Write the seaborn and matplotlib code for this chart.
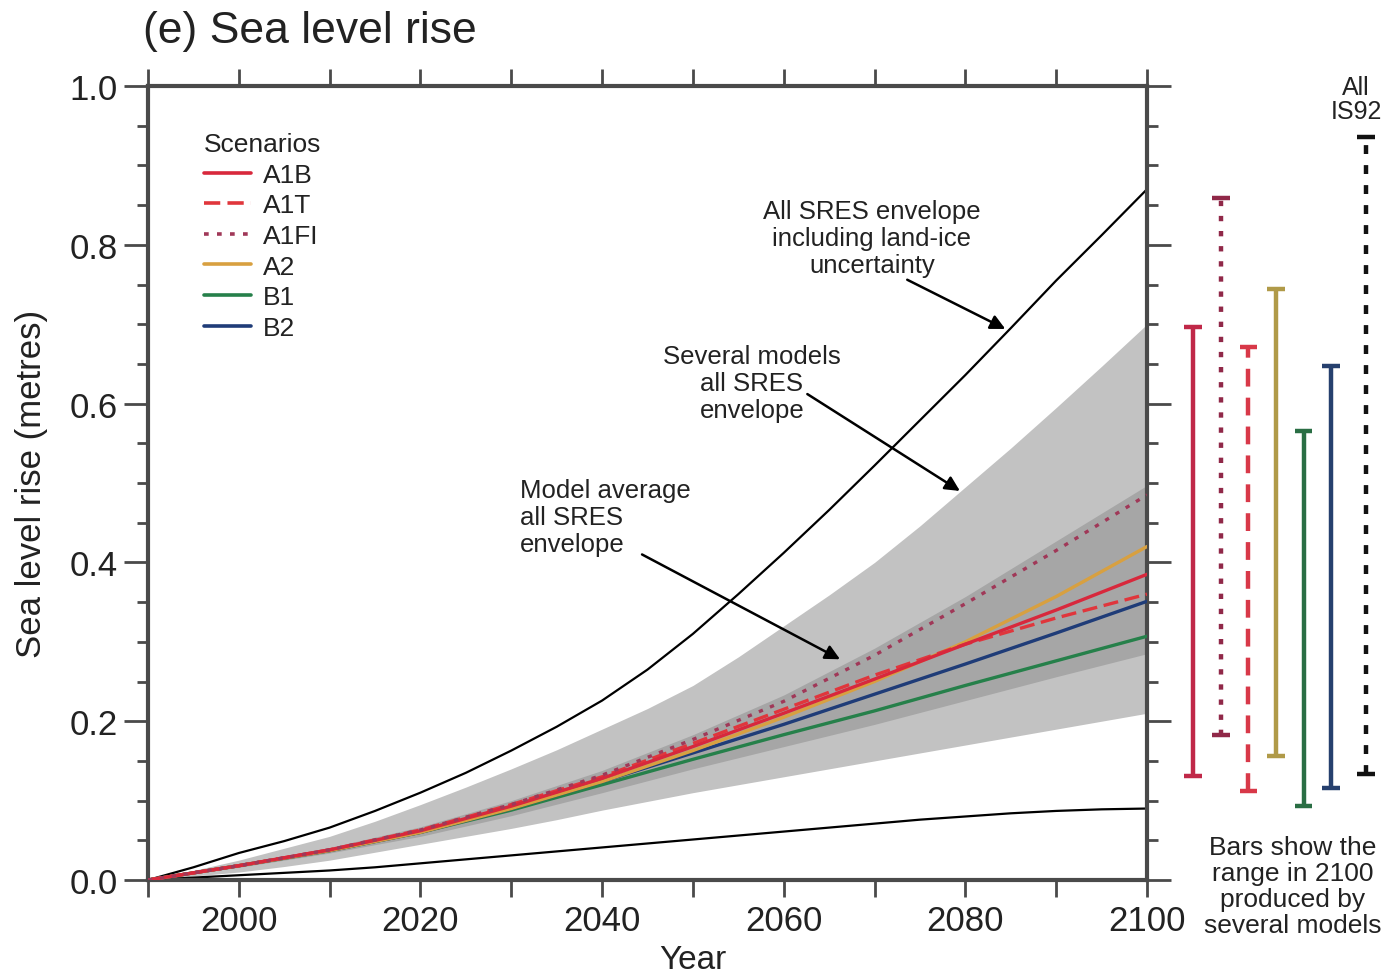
import numpy as np
import pandas as pd
import matplotlib
matplotlib.use("Agg")
import matplotlib.pyplot as plt
import seaborn as sns
from matplotlib.ticker import MultipleLocator, FixedLocator, FixedFormatter

# ---------------- data ----------------
years = [1990, 2000, 2010, 2020, 2030, 2040, 2050, 2060, 2070, 2080, 2090, 2100]

a1b  = [0, 0.018, 0.038, 0.062, 0.093, 0.128, 0.168, 0.210, 0.253, 0.297, 0.340, 0.385]
a1t  = [0, 0.018, 0.038, 0.063, 0.095, 0.130, 0.172, 0.215, 0.258, 0.297, 0.330, 0.360]
a1fi = [0, 0.018, 0.038, 0.063, 0.095, 0.132, 0.177, 0.225, 0.283, 0.348, 0.415, 0.485]
a2   = [0, 0.018, 0.037, 0.060, 0.090, 0.124, 0.163, 0.205, 0.250, 0.300, 0.357, 0.420]
b1   = [0, 0.018, 0.037, 0.060, 0.088, 0.120, 0.152, 0.183, 0.213, 0.245, 0.276, 0.307]
b2   = [0, 0.018, 0.037, 0.060, 0.090, 0.124, 0.160, 0.196, 0.234, 0.272, 0.311, 0.351]

# envelopes read every 5 years
years5 = [1990, 1995, 2000, 2005, 2010, 2015, 2020, 2025, 2030, 2035, 2040, 2045,
          2050, 2055, 2060, 2065, 2070, 2075, 2080, 2085, 2090, 2095, 2100]

# All SRES envelope including land-ice uncertainty (black curves)
land_ice_upper = [0, 0.016, 0.034, 0.049, 0.066, 0.087, 0.110, 0.135, 0.163, 0.193,
                  0.226, 0.265, 0.310, 0.360, 0.412, 0.466, 0.522, 0.579, 0.636,
                  0.695, 0.755, 0.812, 0.870]
land_ice_lower = [0, 0.003, 0.006, 0.009, 0.012, 0.016, 0.021, 0.026, 0.031, 0.036,
                  0.041, 0.046, 0.051, 0.056, 0.061, 0.066, 0.071, 0.076, 0.080,
                  0.084, 0.087, 0.089, 0.090]

# Several models all SRES envelope (light grey)
models_upper = [0, 0.012, 0.025, 0.040, 0.055, 0.074, 0.095, 0.117, 0.140, 0.164,
                0.190, 0.216, 0.245, 0.281, 0.320, 0.359, 0.400, 0.446, 0.495,
                0.544, 0.595, 0.647, 0.700]
models_lower = [0, 0.005, 0.010, 0.017, 0.025, 0.035, 0.045, 0.055, 0.065, 0.076,
                0.088, 0.099, 0.110, 0.120, 0.130, 0.140, 0.150, 0.160, 0.170,
                0.180, 0.190, 0.200, 0.210]

# Model average all SRES envelope (dark grey)
avg_upper = [0, 0.020, 0.041, 0.067, 0.100, 0.138, 0.183, 0.233, 0.292, 0.357, 0.427, 0.497]
avg_lower = [0, 0.016, 0.034, 0.055, 0.081, 0.110, 0.140, 0.168, 0.196, 0.226, 0.256, 0.285]

scenarios = ["A1B", "A1T", "A1FI", "A2", "B1", "B2"]
series = {"A1B": a1b, "A1T": a1t, "A1FI": a1fi, "A2": a2, "B1": b1, "B2": b2}

# Bars: range in 2100 produced by several models
bar_labels = ["A1B", "A1FI", "A1T", "A2", "B1", "B2", "IS92"]
bar_low  = [0.131, 0.183, 0.112, 0.156, 0.093, 0.116, 0.134]
bar_high = [0.696, 0.859, 0.671, 0.744, 0.566, 0.647, 0.936]

# ---------------- style ----------------
sns.set_style("ticks")
plt.rcParams["font.family"] = ["Liberation Sans", "DejaVu Sans"]

palette = {"A1B": "#d8283c", "A1T": "#e0363c", "A1FI": "#a03858",
           "A2": "#d8a040", "B1": "#26804a", "B2": "#1f3c78"}
dashes = {"A1B": "", "A1T": (4.5, 2.0), "A1FI": (1.3, 2.3),
          "A2": "", "B1": "", "B2": ""}
bar_colors = {"A1B": "#c02848", "A1FI": "#902848", "A1T": "#d83848",
              "A2": "#b09a48", "B1": "#2a6e44", "B2": "#26406e", "IS92": "#111111"}
bar_styles = {"A1B": "-", "A1FI": (0, (1.2, 2.2)), "A1T": (0, (4, 2.5)),
              "A2": "-", "B1": "-", "B2": "-", "IS92": (0, (2, 2.5))}
spine_col = "#4a4a4a"
text_col = "#222222"

fig = plt.figure(figsize=(13.93, 9.78), dpi=100)
ax = fig.add_axes([148/1393, 1-881/978, 999/1393, 794/978])

ax.fill_between(years5, models_lower, models_upper, color="#c2c2c2", lw=0, zorder=1)
ax.fill_between(years, avg_lower, avg_upper, color="#a6a6a6", lw=0, zorder=1.5)

env = pd.DataFrame({"Year": years5 * 2,
                    "Value": land_ice_upper + land_ice_lower,
                    "Curve": ["upper"] * len(years5) + ["lower"] * len(years5)})
sns.lineplot(data=env, x="Year", y="Value", units="Curve", estimator=None,
             color="black", lw=1.6, ax=ax, zorder=2)

long = pd.DataFrame({
    "Year": years * len(scenarios),
    "Value": sum([series[s] for s in scenarios], []),
    "Scenario": sum([[s] * len(years) for s in scenarios], []),
})
draw_order = ["B1", "B2", "A2", "A1T", "A1B", "A1FI"]
sns.lineplot(data=long, x="Year", y="Value", hue="Scenario", style="Scenario",
             hue_order=draw_order, style_order=draw_order,
             palette=palette, dashes=dashes, lw=2.4, ax=ax, zorder=3)

handles, labels = ax.get_legend_handles_labels()
hmap = dict(zip(labels, handles))
leg = ax.legend([hmap[s] for s in scenarios], scenarios, title="Scenarios",
                loc="upper left", bbox_to_anchor=(0.045, 0.955), frameon=False,
                fontsize=19, title_fontsize=19, handlelength=1.8,
                handletextpad=0.45, labelspacing=0.25, borderaxespad=0)
leg._legend_box.align = "left"
leg.get_title().set_color(text_col)
for t in leg.get_texts():
    t.set_color(text_col)
for h in leg.get_lines():
    h.set_linewidth(2.6)

ax.set_xlim(1990, 2100)
ax.set_ylim(0, 1.0)
xt = list(range(1990, 2101, 10))
ax.xaxis.set_major_locator(FixedLocator(xt))
ax.xaxis.set_major_formatter(FixedFormatter([str(y) if (y - 2000) % 20 == 0 else "" for y in xt]))
ax.yaxis.set_major_locator(FixedLocator([0, 0.2, 0.4, 0.6, 0.8, 1.0]))
ax.yaxis.set_major_formatter(FixedFormatter(["0.0", "0.2", "0.4", "0.6", "0.8", "1.0"]))
ax.yaxis.set_minor_locator(MultipleLocator(0.05))
ax.tick_params(axis="x", which="major", direction="out", length=12, width=2,
               top=True, bottom=True, labelsize=25, color=spine_col, pad=5,
               labelcolor=text_col)
ax.tick_params(axis="y", which="major", direction="out", length=17, width=2,
               left=True, right=True, labelsize=25, color=spine_col, pad=5,
               labelcolor=text_col)
ax.tick_params(axis="y", which="minor", direction="out", length=8, width=2,
               left=True, right=True, color=spine_col)
for sp in ax.spines.values():
    sp.set_visible(True)
    sp.set_color(spine_col)
    sp.set_linewidth(3)

ax.set_xlabel("Year", fontsize=24, color=text_col, va="center")
ax.xaxis.set_label_coords((693-148)/999, (881-961)/794)
ax.set_ylabel("Sea level rise (metres)", fontsize=25, color=text_col, va="center")
ax.yaxis.set_label_coords((32-148)/999, 0.5)

# annotations
txt_kw = dict(fontsize=18.5, color=text_col, linespacing=1.15)
ax.text(2069.7, 0.809, "All SRES envelope\nincluding land-ice\nuncertainty",
        ha="center", va="center", **txt_kw)
ax.text(2056.5, 0.626, "Several models\nall SRES\nenvelope",
        ha="center", va="center", **txt_kw)
ax.text(2031.0, 0.457, "Model average\nall SRES\nenvelope",
        ha="left", va="center", **txt_kw)
arrow_kw = dict(arrowstyle="-|>", color="black", lw=1.8, mutation_scale=22,
                shrinkA=0, shrinkB=0)
ax.annotate("", xy=(2084.4, 0.694), xytext=(2073.6, 0.756), arrowprops=arrow_kw, zorder=5)
ax.annotate("", xy=(2079.4, 0.490), xytext=(2062.6, 0.612), arrowprops=arrow_kw, zorder=5)
ax.annotate("", xy=(2066.2, 0.278), xytext=(2044.4, 0.410), arrowprops=arrow_kw, zorder=5)

# right-hand range bars
ax2 = fig.add_axes([1170/1393, 1-881/978, 222/1393, 794/978])
ax2.set_xlim(-0.836, 7.2)
ax2.set_ylim(0, 1.0)
ax2.axis("off")
bar_pos = [0, 1, 2, 3, 4, 5, 6.25]
for pos, lab, lo, hi in zip(bar_pos, bar_labels, bar_low, bar_high):
    c = bar_colors[lab]
    ax2.vlines(pos, lo, hi, color=c, linestyle=bar_styles[lab], lw=3.2)
    ax2.hlines([lo, hi], pos - 0.32, pos + 0.32, color=c, lw=3.2)

fig.text(143/1393, 1-32/978, "(e) Sea level rise", fontsize=32, ha="left", va="center",
         color=text_col)
fig.text(1356/1393, 1-100/978, "All\nIS92", fontsize=18, ha="center", va="center",
         linespacing=1.0, color=text_col)
fig.text(1293/1393, 1-887/978, "Bars show the\nrange in 2100\nproduced by\nseveral models",
         fontsize=19, ha="center", va="center", linespacing=1.12, color=text_col)

fig.savefig("out.png", dpi=100)
